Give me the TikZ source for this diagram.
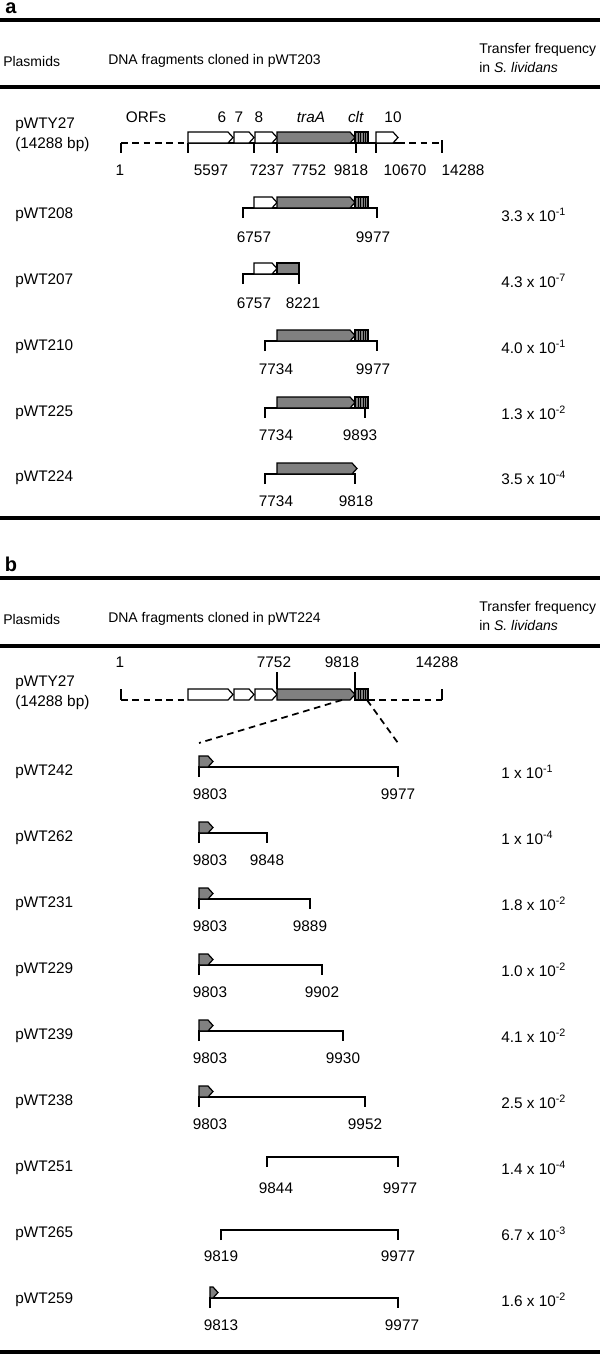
\documentclass[tikz,border=0pt]{standalone}
\usepackage{fontspec}
\setmainfont{Liberation Sans}
\definecolor{genegray}{gray}{0.5}
\newcommand{\orfbox}[4][white]{\filldraw[gene,fill=#1] (#2,#4) -- ({#3-5},#4) -- (#3,{#4+5.5}) -- ({#3-5},{#4+11}) -- (#2,{#4+11}) -- cycle;}
\newcommand{\cltbox}[2]{\filldraw[gene,fill=genegray] (#1,#2) rectangle ({#1+13},{#2+11});
  \foreach \s in {3,5.5,8,10.5} \draw[line width=0.4pt] ({#1+\s},#2) -- ({#1+\s},{#2+11});}
\newcommand{\fragbar}[3]{\draw[frag] (#1,{#3+10}) -- (#1,#3) -- (#2,#3) -- (#2,{#3+10});}
\begin{document}
\begin{tikzpicture}[x=0.75pt,y=-0.75pt,font=\fontsize{11.5}{14.25}\selectfont,
  lbl/.style={anchor=west,inner sep=0pt},
  head/.style={anchor=west,inner sep=0pt,align=left,font=\fontsize{10.5}{14.25}\selectfont},
  num/.style={inner sep=0pt},
  freq/.style={anchor=west,inner sep=0pt},
  panel/.style={inner sep=0pt,font=\fontsize{15}{15}\selectfont\bfseries},
  rule/.style={line width=2.6pt},
  frag/.style={line width=1.4pt},
  gene/.style={line width=0.9pt,draw=black},
  mapline/.style={line width=1.3pt,dash pattern=on 5pt off 3.5pt}]
\useasboundingbox (0,0) rectangle (600,1356);
% ---- panel a
\node[panel] (pa) at (11,8) {a};
\draw[rule] (0,20) -- (600,20);
\node[head] (ha1) at (3,61) {Plasmids};
\node[head] (ha2) at (108,61) {DNA fragments cloned in pWT203};
\node[head] (ha3) at (479,58) {Transfer frequency\\in \textit{S. lividans}};
\draw[rule] (0,87) -- (600,87);
% pWTY27
\node[lbl] (a27) at (15,125) {pWTY27};
\node[lbl] (a27bp) at (15,145) {(14288 bp)};
\node (aorf) at (146,117) {ORFs}; \node (a6) at (222,117) {6}; \node (a7) at (239,117) {7}; \node (a8) at (259,117) {8};
\node (atra) at (311,117) {\textit{traA}}; \node (aclt) at (356,117) {\textit{clt}}; \node (a10) at (393,117) {10};
\draw[mapline] (121,143) -- (188,143); \draw[mapline] (398,143) -- (442,143); \draw[gene] (188,143) -- (398,143);
\foreach \x in {121,188,254,277,356,376} \draw[frag] (\x,143) -- (\x,153);
\draw[frag] (442,140) -- (442,153);
\orfbox{188}{233}{132} \orfbox{234}{254}{132} \orfbox{255}{277}{132} \orfbox[genegray]{277}{355}{132} \cltbox{355}{132} \orfbox{376}{398}{132}
\foreach \x/\t in {120/1,211/5597,267/7237,309/7752,351/9818,405/10670,463/14288} \node[num] (an\t) at (\x,170) {\t};
% pWT208
\node[lbl] (a208) at (15,215) {pWT208};
\fragbar{243}{377}{208}
\orfbox{254}{277}{197} \orfbox[genegray]{277}{355}{197} \cltbox{355}{197}
\node[num] (a208l) at (254,237) {6757}; \node[num] (a208r) at (373,237) {9977};
\node[freq] (a208f) at (501,215) {3.3 x 10\textsuperscript{-1}};
% pWT207
\node[lbl] (a207) at (15,281) {pWT207};
\fragbar{243}{299}{274}
\orfbox{254}{277}{263} \filldraw[gene,fill=genegray] (277,263) rectangle (299,274);
\node[num] (a207l) at (254,303) {6757}; \node[num] (a207r) at (303,303) {8221};
\node[freq] (a207f) at (501,281) {4.3 x 10\textsuperscript{-7}};
% pWT210
\node[lbl] (a210) at (15,347) {pWT210};
\fragbar{265}{377}{341}
\orfbox[genegray]{277}{355}{330} \cltbox{355}{330}
\node[num] (a210l) at (276,369) {7734}; \node[num] (a210r) at (373,369) {9977};
\node[freq] (a210f) at (501,347) {4.0 x 10\textsuperscript{-1}};
% pWT225
\node[lbl] (a225) at (15,413) {pWT225};
\fragbar{265}{365}{408}
\orfbox[genegray]{277}{355}{397} \cltbox{355}{397}
\node[num] (a225l) at (276,435) {7734}; \node[num] (a225r) at (360,435) {9893};
\node[freq] (a225f) at (501,413) {1.3 x 10\textsuperscript{-2}};
% pWT224
\node[lbl] (a224) at (15,478) {pWT224};
\fragbar{265}{355}{474}
\orfbox[genegray]{277}{357}{463}
\node[num] (a224l) at (276,501) {7734}; \node[num] (a224r) at (356,501) {9818};
\node[freq] (a224f) at (501,478) {3.5 x 10\textsuperscript{-4}};
\draw[rule] (0,518) -- (600,518);
% ---- panel b
\node[panel] (pb) at (11,564) {b};
\draw[rule] (0,578) -- (600,578);
\node[head] (hb1) at (3,619) {Plasmids};
\node[head] (hb2) at (108,619) {DNA fragments cloned in pWT224};
\node[head] (hb3) at (479,616) {Transfer frequency\\in \textit{S. lividans}};
\draw[rule] (0,646) -- (600,646);
% pWTY27
\node[lbl] (b27) at (15,683) {pWTY27};
\node[lbl] (b27bp) at (15,703) {(14288 bp)};
\foreach \x/\t in {120/1,274/7752,342/9818,437/14288} \node[num] (bn\t) at (\x,662) {\t};
\draw[frag] (277,672) -- (277,689); \draw[frag] (355,672) -- (355,689);
\draw[frag] (121,689) -- (121,700); \draw[frag] (442,689) -- (442,700);
\draw[mapline] (121,700) -- (188,700); \draw[mapline] (368,700) -- (442,700);
\orfbox{188}{233}{689} \orfbox{234}{254}{689} \orfbox{255}{277}{689} \orfbox[genegray]{277}{355}{689} \cltbox{355}{689}
\coordinate (z1) at (342,700); \coordinate (z2) at (367,700);
\coordinate (z3) at (199,743); \coordinate (z4) at (398,743);
\draw[mapline] (z1) -- (z3); \draw[mapline] (z2) -- (z4);
% deletions from 9803
\foreach \L/\nm/\rx/\rnum/\fq/\ex in {772/242/398/9977/1/1,838/262/267/9848/1/4,904/231/310/9889/1.8/2,
  970/229/322/9902/1.0/2,1036/239/343/9930/4.1/2,1102/238/365/9952/2.5/2}{
  \node[lbl] (b\nm) at (15,\L) {pWT\nm};
  \fragbar{199}{\rx}{\L-5}
  \orfbox[genegray]{199}{213}{\L-16}
  \node[num] (b\nm-l) at (210,{\L+22}) {9803};
  \node[num] (b\nm-r) at (\rx,{\L+22}) {\rnum};
  \node[freq] (b\nm-f) at (501,\L) {\fq{} x 10\textsuperscript{-\ex}};
}
% pWT251
\node[lbl] (b251) at (15,1168) {pWT251};
\fragbar{267}{398}{1157}
\node[num] (b251l) at (276,1188) {9844}; \node[num] (b251r) at (400,1188) {9977};
\node[freq] (b251f) at (501,1168) {1.4 x 10\textsuperscript{-4}};
% pWT265
\node[lbl] (b265) at (15,1234) {pWT265};
\fragbar{221}{398}{1230}
\node[num] (b265l) at (221,1256) {9819}; \node[num] (b265r) at (398,1256) {9977};
\node[freq] (b265f) at (501,1234) {6.7 x 10\textsuperscript{-3}};
% pWT259
\node[lbl] (b259) at (15,1300) {pWT259};
\fragbar{210}{398}{1298}
\orfbox[genegray]{210}{218}{1287}
\node[num] (b259l) at (221,1325) {9813}; \node[num] (b259r) at (402,1325) {9977};
\node[freq] (b259f) at (501,1300) {1.6 x 10\textsuperscript{-2}};
\draw[rule] (0,1352) -- (600,1352);
\end{tikzpicture}
\end{document}
